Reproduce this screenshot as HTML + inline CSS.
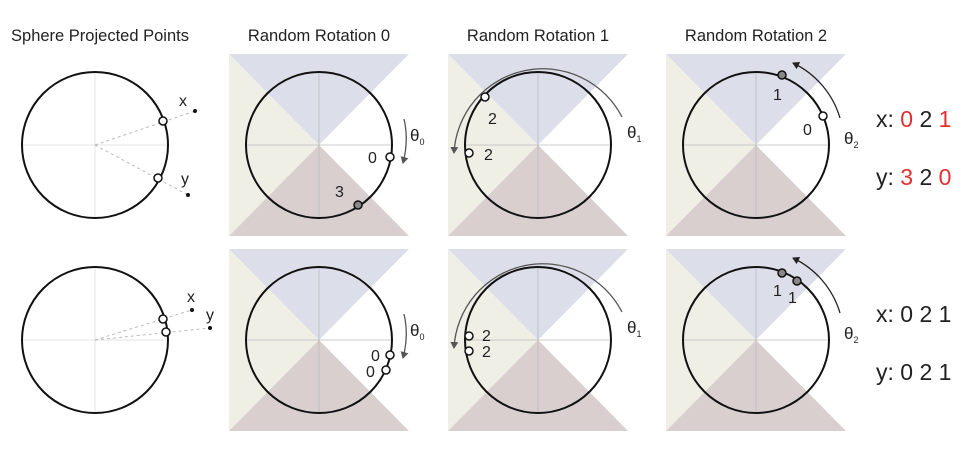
<!DOCTYPE html>
<html><head><style>html,body{margin:0;padding:0;background:#fff}svg{display:block}text{font-family:"Liberation Sans",sans-serif;fill:#222}</style></head><body>
<svg width="980" height="450" viewBox="0 0 980 450" xmlns="http://www.w3.org/2000/svg">
<defs>
<marker id="ah" markerWidth="8" markerHeight="8" refX="6" refY="4" orient="auto" markerUnits="userSpaceOnUse"><path d="M0,0 L7,4 L0,8 Z" fill="#555"/></marker>
<marker id="ahk" markerWidth="8" markerHeight="8" refX="6" refY="4" orient="auto" markerUnits="userSpaceOnUse"><path d="M0,0 L7,4 L0,8 Z" fill="#222"/></marker>
<g id="panel">
<polygon points="-90,-91 -90,91 0,0" fill="#efefe6"/>
<polygon points="-90,-91 90,-91 0,0" fill="#dcdfea"/>
<polygon points="-90,91 90,91 0,0" fill="#d9cfcf"/>
<line x1="-73" y1="0" x2="73" y2="0" stroke="#bbb" stroke-width="0.8"/>
<line x1="0" y1="-73" x2="0" y2="73" stroke="#bbb" stroke-width="0.8"/>
<circle r="73" fill="none" stroke="#111" stroke-width="2"/>
</g>
<g id="plain">
<line x1="-73" y1="0" x2="73" y2="0" stroke="#ddd" stroke-width="0.8"/>
<line x1="0" y1="-73" x2="0" y2="73" stroke="#ddd" stroke-width="0.8"/>
<circle r="73" fill="none" stroke="#111" stroke-width="2"/>
</g>
</defs>
<g font-size="16.5">
<text x="100" y="41" text-anchor="middle">Sphere Projected Points</text>
<text x="319" y="41" text-anchor="middle">Random Rotation 0</text>
<text x="538" y="41" text-anchor="middle">Random Rotation 1</text>
<text x="756" y="41" text-anchor="middle">Random Rotation 2</text>
</g>

<use href="#plain" x="95" y="145"/>
<g stroke="#bbb" stroke-dasharray="3,3" stroke-width="1"><line x1="95" y1="145" x2="195" y2="111"/><line x1="95" y1="145" x2="188" y2="195"/></g>
<circle cx="195" cy="111" r="2" fill="#111"/><circle cx="188" cy="195" r="2" fill="#111"/>
<circle cx="163" cy="121" r="4" fill="#fff" stroke="#111" stroke-width="1.5"/>
<circle cx="158" cy="178" r="4" fill="#fff" stroke="#111" stroke-width="1.5"/>
<text x="179" y="106" font-size="16">x</text><text x="181" y="184" font-size="16">y</text>

<use href="#panel" x="319" y="145"/>
<circle cx="390" cy="157" r="4" fill="#fff" stroke="#111" stroke-width="1.5"/>
<circle cx="358" cy="205" r="4" fill="#888" stroke="#111" stroke-width="1.5"/>
<text x="368" y="163" font-size="16">0</text><text x="335" y="197" font-size="16">3</text>
<path d="M404,119 Q409,140 403,163" fill="none" stroke="#555" stroke-width="1.3" marker-end="url(#ah)"/>
<text x="410" y="141" font-size="17">θ<tspan font-size="9" dy="4">0</tspan></text>

<use href="#panel" x="538" y="145"/>
<circle cx="485" cy="97" r="4" fill="#fff" stroke="#111" stroke-width="1.5"/>
<circle cx="469" cy="153" r="4" fill="#fff" stroke="#111" stroke-width="1.5"/>
<text x="488" y="124" font-size="16">2</text><text x="484" y="160" font-size="16">2</text>
<path d="M622,117 A89,89 0 0 0 454,153" fill="none" stroke="#555" stroke-width="1.3" marker-end="url(#ah)"/>
<text x="627" y="138" font-size="17">θ<tspan font-size="9" dy="4">1</tspan></text>

<use href="#panel" x="756" y="145"/>
<circle cx="782" cy="75" r="4" fill="#888" stroke="#111" stroke-width="1.5"/>
<circle cx="823" cy="116" r="4" fill="#fff" stroke="#111" stroke-width="1.5"/>
<text x="773" y="100" font-size="16">1</text><text x="803" y="135" font-size="16">0</text>
<path d="M840,118 A89,89 0 0 0 793,63" fill="none" stroke="#222" stroke-width="1.3" marker-end="url(#ahk)"/>
<text x="844" y="144" font-size="17">θ<tspan font-size="9" dy="4">2</tspan></text>

<g font-size="23">
<text x="876" y="127">x:  <tspan fill="#e03030">0</tspan> 2 <tspan fill="#e03030">1</tspan></text>
<text x="876" y="185">y:  <tspan fill="#e03030">3</tspan> 2 <tspan fill="#e03030">0</tspan></text>
</g>

<use href="#plain" x="95" y="340"/>
<g stroke="#bbb" stroke-dasharray="3,3" stroke-width="1"><line x1="95" y1="340" x2="192" y2="310"/><line x1="95" y1="340" x2="210" y2="328"/></g>
<circle cx="192" cy="310" r="2" fill="#111"/><circle cx="210" cy="328" r="2" fill="#111"/>
<circle cx="163" cy="319" r="4" fill="#fff" stroke="#111" stroke-width="1.5"/>
<circle cx="166" cy="332" r="4" fill="#fff" stroke="#111" stroke-width="1.5"/>
<text x="187" y="302" font-size="16">x</text><text x="206" y="320" font-size="16">y</text>

<use href="#panel" x="319" y="340"/>
<circle cx="390" cy="355" r="4" fill="#fff" stroke="#111" stroke-width="1.5"/>
<circle cx="386" cy="370" r="4" fill="#fff" stroke="#111" stroke-width="1.5"/>
<text x="371" y="361" font-size="16">0</text><text x="366" y="377" font-size="16">0</text>
<path d="M404,314 Q409,335 403,358" fill="none" stroke="#555" stroke-width="1.3" marker-end="url(#ah)"/>
<text x="410" y="336" font-size="17">θ<tspan font-size="9" dy="4">0</tspan></text>

<use href="#panel" x="538" y="340"/>
<circle cx="469" cy="336" r="4" fill="#fff" stroke="#111" stroke-width="1.5"/>
<circle cx="469" cy="351" r="4" fill="#fff" stroke="#111" stroke-width="1.5"/>
<text x="482" y="341" font-size="16">2</text><text x="482" y="357" font-size="16">2</text>
<path d="M622,312 A89,89 0 0 0 454,348" fill="none" stroke="#555" stroke-width="1.3" marker-end="url(#ah)"/>
<text x="627" y="333" font-size="17">θ<tspan font-size="9" dy="4">1</tspan></text>

<use href="#panel" x="756" y="340"/>
<circle cx="782" cy="273" r="4" fill="#888" stroke="#111" stroke-width="1.5"/>
<circle cx="797" cy="281" r="4" fill="#888" stroke="#111" stroke-width="1.5"/>
<text x="773" y="296" font-size="16">1</text><text x="788" y="303" font-size="16">1</text>
<path d="M840,313 A89,89 0 0 0 793,258" fill="none" stroke="#222" stroke-width="1.3" marker-end="url(#ahk)"/>
<text x="844" y="339" font-size="17">θ<tspan font-size="9" dy="4">2</tspan></text>

<g font-size="23">
<text x="876" y="322">x:  0 2 1</text>
<text x="876" y="380">y:  0 2 1</text>
</g>
</svg>
</body></html>
